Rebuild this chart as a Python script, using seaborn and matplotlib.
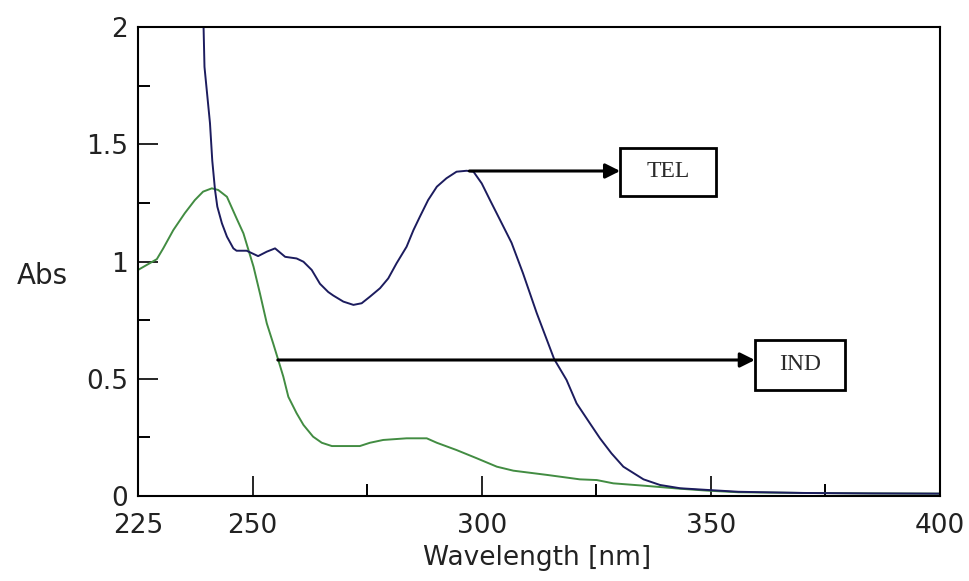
import matplotlib
matplotlib.use("Agg")
import matplotlib.pyplot as plt
from matplotlib.patches import Rectangle
from matplotlib.ticker import FixedLocator
import seaborn as sns
import pandas as pd

# ---- data ----
tel_wl = [239.3, 239.5, 240.7, 241.2, 241.8, 242.3, 243.3, 244.4, 245.8, 246.5,
          248.7, 251.2, 253.1, 254.9, 257.1, 259.6, 261.1, 262.9, 264.7, 266.5,
          267.6, 269.8, 272.0, 273.8, 275.6, 277.8, 279.6, 281.4, 283.6, 285.1,
          286.5, 288.3, 290.2, 292.3, 294.5, 296.7, 298.2, 300.0, 301.8, 304.0,
          306.5, 309.0, 312.0, 315.8, 318.5, 320.7, 323.6, 325.8, 328.3, 330.9,
          335.3, 338.9, 343.3, 349.1, 356.0, 370.0, 385.0, 400.0]
tel_abs = [2.00, 1.83, 1.59, 1.43, 1.305, 1.234, 1.163, 1.106, 1.056, 1.046,
           1.046, 1.023, 1.042, 1.056, 1.020, 1.013, 0.999, 0.964, 0.905, 0.870,
           0.855, 0.829, 0.815, 0.822, 0.850, 0.886, 0.928, 0.992, 1.063, 1.134,
           1.191, 1.262, 1.319, 1.355, 1.383, 1.387, 1.383, 1.333, 1.262, 1.177,
           1.080, 0.950, 0.780, 0.584, 0.495, 0.395, 0.310, 0.246, 0.182, 0.125,
           0.071, 0.047, 0.033, 0.026, 0.018, 0.013, 0.011, 0.010]

ind_wl = [225.0, 229.1, 230.5, 232.7, 235.2, 237.4, 239.2, 241.1, 242.5, 244.4,
          246.5, 248.0, 249.1, 250.2, 251.6, 253.1, 254.5, 255.6, 256.7, 257.8,
          259.6, 261.1, 263.2, 265.1, 267.3, 273.4, 275.6, 278.5, 283.6, 288.0,
          290.2, 294.5, 298.9, 303.3, 306.9, 314.2, 321.4, 325.1, 328.7, 336.0,
          343.3, 349.1, 356.0, 370.0, 385.0, 400.0]
ind_abs = [0.964, 1.010, 1.056, 1.134, 1.206, 1.262, 1.298, 1.312, 1.305, 1.276,
           1.184, 1.120, 1.049, 0.978, 0.864, 0.736, 0.650, 0.580, 0.509, 0.423,
           0.353, 0.303, 0.253, 0.227, 0.213, 0.213, 0.227, 0.239, 0.246, 0.246,
           0.227, 0.196, 0.161, 0.125, 0.108, 0.090, 0.071, 0.068, 0.054, 0.043,
           0.031, 0.023, 0.016, 0.013, 0.011, 0.010]

x_ticks = [225, 250, 300, 350, 400]
x_minor = [275, 325, 375]
y_ticks = [0, 0.5, 1, 1.5, 2]
y_tick_labels = ["0", "0.5", "1", "1.5", "2"]
y_minor = [0.25, 0.75, 1.25, 1.75]

tel_peak = (297.3, 1.386)
ind_mark = (255.5, 0.58)

sns.set_theme(style="white")
plt.rcParams["font.family"] = ["DejaVu Sans"]

fig = plt.figure(figsize=(9.7, 5.81), dpi=100)
ax = fig.add_axes([0.1423, 0.1463, 0.8268, 0.8072])

tel_df = pd.DataFrame({"wl": tel_wl, "abs": tel_abs})
ind_df = pd.DataFrame({"wl": ind_wl, "abs": ind_abs})
sns.lineplot(data=ind_df, x="wl", y="abs", sort=False, ax=ax,
             color="#428c42", lw=1.4)
sns.lineplot(data=tel_df, x="wl", y="abs", sort=False, ax=ax,
             color="#1c1c5e", lw=1.4)

ax.set_xlim(225, 400)
ax.set_ylim(0, 2)

ax.set_xticks(x_ticks)
ax.set_xticklabels([str(v) for v in x_ticks])
ax.xaxis.set_minor_locator(FixedLocator(x_minor))
ax.set_yticks(y_ticks)
ax.set_yticklabels(y_tick_labels)
ax.yaxis.set_minor_locator(FixedLocator(y_minor))

ax.tick_params(axis="both", which="major", direction="in", length=14.4,
               width=1.2, color="black", labelsize=19, labelcolor="#222222")
ax.tick_params(axis="x", which="major", pad=12)
ax.tick_params(axis="y", which="major", pad=7)
ax.tick_params(axis="both", which="minor", direction="in", length=8.5,
               width=1.4, color="black")
ax.tick_params(axis="x", which="both", bottom=True, top=False)
ax.tick_params(axis="y", which="both", left=True, right=False)

for side, sp in ax.spines.items():
    sp.set_visible(True)
    sp.set_color("black")
    sp.set_linewidth(1.5)

ax.set_xlabel("Wavelength [nm]", fontsize=19, color="#222222", va="center")
ax.xaxis.set_label_coords(0.497, -0.132)
ax.set_ylabel("Abs", rotation=0, fontsize=20, color="#222222",
              ha="center", va="center")
ax.yaxis.set_label_coords(-0.1197, 0.469)

# arrows and boxed labels
arrow_kw = dict(arrowstyle="-|>", color="black", lw=2.2, mutation_scale=22,
                shrinkA=0, shrinkB=0)
ax.annotate("", xy=(330.2, tel_peak[1]), xytext=tel_peak,
            arrowprops=arrow_kw)
ax.annotate("", xy=(359.6, ind_mark[1]), xytext=ind_mark,
            arrowprops=arrow_kw)

boxes = [("TEL", 0.601, 0.640, 0.120, 0.102),
         ("IND", 0.769, 0.226, 0.113, 0.107)]
for label, bx, by, bw, bh in boxes:
    ax.add_patch(Rectangle((bx, by), bw, bh, transform=ax.transAxes,
                           facecolor="white", edgecolor="black", lw=2,
                           zorder=5))
    ax.text(bx + bw / 2, by + bh / 2, label, transform=ax.transAxes,
            ha="center", va="center", fontsize=17, color="#2a2a2a",
            family=["Liberation Serif", "DejaVu Serif"], zorder=6)

fig.savefig("out.png", dpi=100)
